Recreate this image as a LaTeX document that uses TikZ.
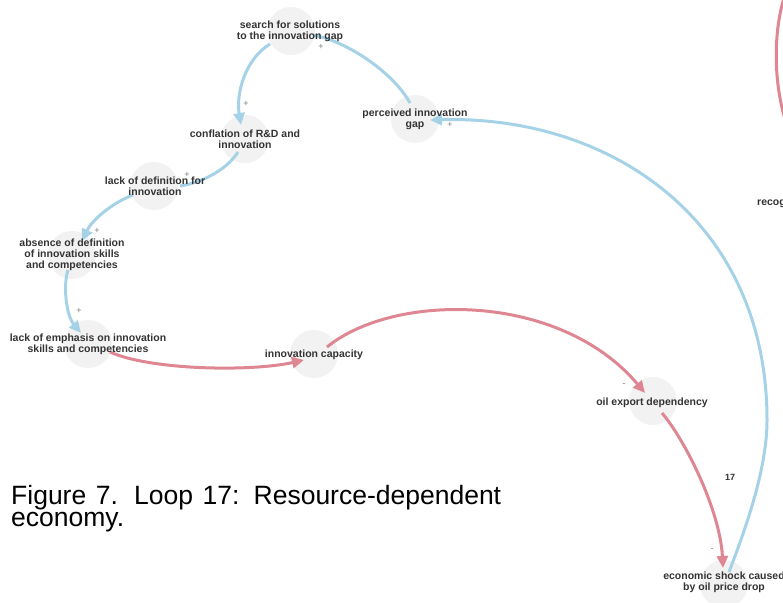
\documentclass[tikz,border=0pt]{standalone}
\usepackage{fontspec}
\setmainfont{Liberation Sans}
\usetikzlibrary{arrows.meta,calc}
\definecolor{lblue}{RGB}{166,210,232}
\definecolor{lred}{RGB}{222,134,146}
\definecolor{circfill}{RGB}{242,242,242}
\definecolor{txt}{RGB}{51,51,51}
\begin{document}
\begin{tikzpicture}[x=1pt,y=-1pt,
  vcirc/.style={circle,fill=circfill,minimum size=48pt,inner sep=0pt},
  vlbl/.style={font=\fontsize{10.5}{11}\selectfont\bfseries,text=txt,align=center,inner sep=0pt},
  poslink/.style={draw=lblue,line width=3pt},
  neglink/.style={draw=lred,line width=3pt},
  tipped/.style={-{Triangle[length=12pt,width=11pt]}},
  sgn/.style={font=\fontsize{9}{9}\selectfont,text=gray,inner sep=0pt},
  caption/.style={font=\fontsize{26.5}{21}\selectfont,text=black,inner sep=0pt,anchor=base west}]
\useasboundingbox (0,0) rectangle (783,602);
% circles
\node[vcirc] (search) at (291,31) {};
\node[vcirc] (perceived) at (415,119) {};
\node[vcirc] (conflation) at (245,139) {};
\node[vcirc] (lackdef) at (154,186) {};
\node[vcirc] (absence) at (72,255) {};
\node[vcirc] (emph) at (88,344) {};
\node[vcirc] (capacity) at (314,354) {};
\node[vcirc] (oil) at (653,401) {};
\node[vcirc] (shock) at (724,584) {};
% off-canvas ends of the partial red link
\coordinate (rtop) at (785,-5);
\coordinate (rbot) at (787,125);
% links
\draw[poslink,tipped] ($(search)+(-21,13)$) .. controls (244,60) and (236,95) .. ($(conflation)+(-4,-14)$);
\draw[poslink] ($(perceived)+(-5,-16)$) .. controls (395,75) and (350,42) .. ($(search)+(22,4)$);
\draw[poslink] ($(conflation)+(-7,13)$) .. controls (228,168) and (205,182) .. ($(lackdef)+(26,0)$);
\draw[poslink,tipped] ($(lackdef)+(-21,9)$) .. controls (112,203) and (92,220) .. ($(absence)+(10,-14)$);
\draw[poslink,tipped] ($(absence)+(-4,15)$) .. controls (63,285) and (66,315) .. ($(emph)+(-7,-11)$);
\draw[neglink,tipped] ($(emph)+(22,8)$) .. controls (150,370) and (250,372) .. ($(capacity)+(-10,6)$);
\draw[neglink,tipped] ($(capacity)+(13,-7)$) .. controls (395,292) and (560,292) .. ($(oil)+(-8,-8)$);
\draw[neglink,tipped] ($(oil)+(9,12)$) .. controls (685,440) and (720,510) .. ($(shock)+(-1,-16)$);
\draw[poslink,tipped] ($(shock)+(5,-12)$) .. controls (745,530) and (767,470) .. (767,420)
   .. controls (767,220) and (610,115) .. ($(perceived)+(15,1)$);
\draw[neglink] (rtop) .. controls (773,30) and (773,85) .. (rbot);
% labels
\node[vlbl] (search-l) at (290,31) {search for solutions\\to the innovation gap};
\node[vlbl] (perceived-l) at (415,119) {perceived innovation\\gap};
\node[vlbl] (conflation-l) at (245,139) {conflation of R\&D and\\innovation};
\node[vlbl] (lackdef-l) at (155,186) {lack of definition for\\innovation};
\node[vlbl] (absence-l) at (72,255) {absence of definition\\of innovation skills\\and competencies};
\node[vlbl] (emph-l) at (88,344) {lack of emphasis on innovation\\skills and competencies};
\node[vlbl] (capacity-l) at (314,355) {innovation capacity};
\node[vlbl] (oil-l) at (652,403) {oil export dependency};
\node[vlbl] (shock-l) at (724,582) {economic shock caused\\by oil price drop};
\node[vlbl,anchor=west] (recog-l) at (757,203) {recognition};
% polarity signs
\node[sgn] (s1) at (246,104) {+};
\node[sgn] (s2) at (321,47) {+};
\node[sgn] (s3) at (187,175) {+};
\node[sgn] (s4) at (97,231) {+};
\node[sgn] (s5) at (79,311) {+};
\node[sgn] (s6) at (624,385) {-};
\node[sgn] (s7) at (712,550) {-};
\node[sgn] (s8) at (450,125) {+};
\node[font=\fontsize{9}{9}\selectfont\bfseries,text=txt,inner sep=0pt] (loopno) at (730,477) {17};
% caption
\node[caption] (cap1) at (11,504) {\makebox[490pt][s]{Figure 7. Loop 17: Resource-dependent}};
\node[caption] (cap2) at (11,526) {economy.};
\end{tikzpicture}
\end{document}
